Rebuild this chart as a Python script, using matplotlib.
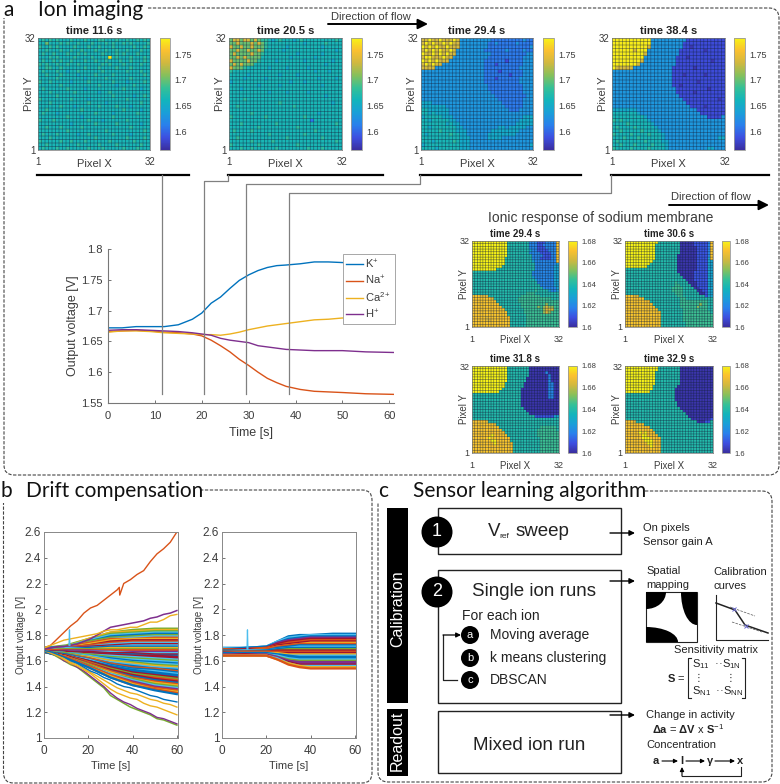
import matplotlib
matplotlib.use("Agg")
import matplotlib.pyplot as plt
import numpy as np
from matplotlib.colors import LinearSegmentedColormap
from matplotlib.patches import Circle, Ellipse, Rectangle
from matplotlib.path import Path
from matplotlib.patches import PathPatch

plt.rcParams['font.family'] = ['Liberation Sans', 'DejaVu Sans']
plt.rcParams['mathtext.fontset'] = 'custom'
plt.rcParams['mathtext.rm'] = 'Liberation Sans'
plt.rcParams['mathtext.it'] = 'Liberation Sans'
plt.rcParams['mathtext.bf'] = 'Liberation Sans:bold'
plt.rcParams['mathtext.default'] = 'regular'

TXT = '#3c3c3c'
parula = LinearSegmentedColormap.from_list('parula', ['#3a2e9e', '#3d4fe0', '#2a80ec', '#1a9fd8', '#12b4bc',
                                                      '#35c097', '#85c05c', '#d0b840', '#fac030', '#f7f316'])
matlab = ['#0072BD', '#D95319', '#EDB120', '#7E2F8E', '#77AC30', '#4DBEEE', '#A2142F']

# voltage for each digit used in the maps below
top_levels = [1.57, 1.585, 1.61, 1.63, 1.65, 1.665, 1.68, 1.70, 1.735, 1.778]
na_levels = [1.602, 1.61, 1.62, 1.63, 1.64, 1.645, 1.655, 1.665, 1.672, 1.68]

# ion imaging maps, top row of the array first
map_116 = [
    "56565655 56555655 56655565 56556565", "55755565 65565556 55565655 65655556",
    "65565655 55655565 56555655 55565565", "55655565 56556555 65565565 56555655",
    "56556555 65565655 55655565 65556555", "55565655 55655556 55559565 55655565",
    "56556565 56555655 65565556 55655565", "65655655 65565555 55656555 65555655",
    "55665565 55555655 56555565 55655555", "56555655 45565555 55655555 56555655",
    "55655565 55545555 65555655 55555565", "55555655 55555455 55565555 55655555",
    "65565555 54555565 55555655 54555565", "55555565 55555555 56555545 55565555",
    "56555555 65555455 55555555 65555455", "55565555 55655555 54556555 55555555",
    "55555655 55555555 55555655 55545565", "65555555 56555545 55555555 56555555",
    "55565555 55555565 55545555 55555655", "55555565 55455555 56555565 55455555",
    "55655555 55556555 55555555 65555455", "56555455 55555555 65555455 55556555",
    "55555555 65554555 55555655 55555555", "65556555 55555565 55455555 56555555",
    "55555555 54555555 65555565 55555455", "55655565 55556555 55555555 55655555",
    "55555555 65555555 55565555 55555565", "56555655 55545565 55555655 55455555",
    "55565555 55555555 65555555 56555565", "65555565 56555655 55556555 55565555",
    "55655555 55565555 56555565 55555655", "56555655 65555565 55655555 65556555",
]
map_205 = [
    "78878878 76654565 55456555 55555565", "77877787 87655555 55555455 55565555",
    "87787787 77655555 45555555 55455555", "77877877 87555554 55555555 55555545",
    "78777787 76555555 55545555 55455555", "77878777 75555555 54555555 45555555",
    "87777877 65555455 55555455 55555455", "78787775 55555555 55555555 55545555",
    "87776555 55545555 45555545 55555555", "65555555 55555555 55555555 45554555",
    "55555455 55555545 55545555 55555555", "55554555 55455555 55555555 54555545",
    "45555555 55555555 54555455 55555555", "55555555 45555545 55555555 55455555",
    "55545555 55555555 55555555 55555555", "55555555 55545555 45555545 55555555",
    "55555555 55555555 55555555 55545555", "55556555 55555555 55555555 55555555",
    "55555555 55555565 55555555 55555455", "55655555 55555555 55655555 55555555",
    "55555555 55555555 55555555 55555555", "55555565 55555555 55555555 54555555",
    "65555555 55655555 55555655 55555555", "55555555 55555555 55555552 55555555",
    "55565555 55555655 55555555 55555565", "55555555 65555555 55565555 55555555",
    "56555565 55555555 55555555 65555555", "55555555 55565555 55555655 55555555",
    "55655555 55555555 65555555 55655555", "55555565 55556555 55555555 55555565",
    "65555555 65555555 55565555 55555555", "55565565 55555655 55555565 55655555",
]
map_294 = [
    "88988988 89833333 33332222 22222322", "89898898 98833333 33322322 22232222",
    "98989889 88833333 33322222 22222223", "89898988 98333333 33222222 32222322",
    "98898989 88333333 33332222 22222233", "89988898 83333333 33322222 22222333",
    "98989888 33333333 33222222 12222333", "89898833 33333333 33222122 22222333",
    "88883333 33333333 33222222 22223333", "33333333 33333333 33222212 22222333",
    "33333333 33333333 33222222 21222333", "33333333 33333333 33222122 22223333",
    "33333333 33333333 33222222 22223333", "33333333 33333333 33322222 22222333",
    "33333333 33333333 33322222 22222333", "33333333 33333333 33332222 22222333",
    "33333333 33333333 33333222 22222233", "33333333 33333333 33333322 22222333",
    "44433333 33333333 33333332 22222333", "44444443 33333333 33333333 22222333",
    "55444444 33333333 33333333 32223333", "55454444 33333333 33333333 33333333",
    "45555544 43333333 33333333 33333444", "55455555 44333333 33333333 33334444",
    "55555554 54433333 33333333 33344444", "55455555 55443333 33333344 34444433",
    "55555655 55444333 33334444 44443333", "54555555 65544333 33344444 44433333",
    "55555555 55544433 33344443 33333333", "55545555 56544433 33333333 33333333",
    "45555555 55544433 33333333 33333334", "55554555 55544433 33333333 33333333",
]
map_384 = [
    "99999999 99933333 33333111 11111111", "99999999 99933333 33331111 11111111",
    "99999999 99833333 33331101 11111111", "99999989 99333333 33311111 11011111",
    "99999999 98333333 33311111 11111111", "99999999 93333333 33111011 11111111",
    "99999999 83333333 33111111 11110111", "99999998 33333333 33111111 11111111",
    "98888833 33333333 31111110 11111111", "33333333 33333333 31111111 11111111",
    "33333333 33333333 31110111 11011111", "33333333 33333333 31111111 11111111",
    "33333333 33333333 31111111 01111111", "33333333 33333333 31101111 11111111",
    "33333333 33333333 33111111 11101111", "33333333 33333333 33111110 11111111",
    "33333333 33333333 33311111 11111111", "33333333 33333333 33331111 11111101",
    "33333333 33333333 33333111 11111111", "33333333 33333333 33333311 11011111",
    "44444443 33333333 33333333 11111111", "55555554 33333333 33333333 31111111",
    "55555555 54333333 33333333 33311113", "65655555 55433333 33333333 33333333",
    "55556555 55543333 33333333 33333333", "56555565 55554333 33333333 33333333",
    "55655555 65555433 33333333 33333333", "65555655 55655543 33333333 33333333",
    "55565556 55555543 33333333 33333344", "56555555 56555544 33333333 33333333",
    "55655565 55565554 33333333 33333333", "65555655 55655554 33333333 33344333",
]
na_294 = [
    "99999999 99999444 44444222 11122228", "99999999 99999444 44444222 11222228",
    "99999999 99999444 44444222 11122228", "99999999 99999444 44444322 11112228",
    "99999999 99999444 44444222 21111228", "99999999 99999444 44444422 22111228",
    "99999999 99994444 44444422 21111228", "99999999 99994444 44444432 22222228",
    "99999999 99994444 44444442 22222223", "99999999 99944444 44444442 22222233",
    "99999999 94444444 44444442 22222233", "44444444 44444444 44444422 22222233",
    "44444444 44444444 44444422 22222233", "44444444 44444444 44444432 22222233",
    "44444444 44444444 44444443 22222233", "44444444 44444444 44444444 22222233",
    "44444444 44444444 44444444 42222233", "44444444 44444444 44444444 44222223",
    "44444444 44444444 44444445 44443223", "44444444 44444444 44445554 44444444",
    "88877744 44444444 44555555 54444444", "88888887 44444444 45555555 55555444",
    "88888888 84444444 45555555 55555555", "88888888 88444444 44555555 55565555",
    "88888888 88844444 44555555 65676655", "88888888 88884444 44455555 55677755",
    "88888888 88888444 44455555 55676555", "88888888 88888444 44445555 55555555",
    "88888788 88888844 44445555 55555555", "88888778 88888844 44445555 55555555",
    "88888888 88888844 44445555 55555555", "88888888 88888844 44445555 55555555",
]
na_306 = [
    "99999999 99994444 44440000 01111128", "99999999 99944444 44440000 01111128",
    "99999999 99944444 44440000 00111128", "99999999 99944444 44440000 00111128",
    "99999999 99944444 44440000 00111128", "99999999 99944444 44400000 00111128",
    "99999999 99944444 44400000 00111138", "99999999 99444444 44400000 00111133",
    "99999999 94444444 44400000 00111133", "99999999 44444444 44400000 00111133",
    "44444444 44444444 44400000 00111133", "44444444 44444444 44400000 01111133",
    "44444444 44444444 44440000 01111133", "44444444 44444444 44444000 01111133",
    "44444444 44444444 44444400 01111133", "44444444 44444444 44544440 00111133",
    "44444444 44444444 44554444 00111133", "44444444 44444444 45555444 40011133",
    "44444444 44444444 45555444 44001133", "44444444 44444444 44555444 44400133",
    "88877444 44444444 44455444 44444133", "88888884 44444444 44445544 44444444",
    "88888888 84444444 44445555 55555544", "88888888 88444444 44445555 55565544",
    "88888888 88844444 44445555 55655544", "88888888 88884444 44444555 55555544",
    "88888888 88888444 44444555 55555554", "88888888 88888444 44444555 55555555",
    "88888888 88888444 44444555 55555555", "88888888 88888444 44444555 55555555",
    "88888888 88888444 44444455 55555555", "88888888 88888444 44444455 55555555",
]
na_318 = [
    "99999999 99999444 44444000 00000000", "99999999 99999444 44444000 00000000",
    "99999999 99999444 44444000 00020000", "99999999 99999444 44444000 00002000",
    "99999999 99999444 44440000 00002000", "99999999 99999444 44440000 00002000",
    "99999999 99994444 44400000 00002200", "99999999 99994444 44400000 00002200",
    "99999999 99944444 44000000 00002200", "99999999 99444444 44000000 00002200",
    "44444444 44444444 44000000 00002200", "44444444 44444444 44000000 00002200",
    "44444444 44444444 44000000 00000000", "44444444 44444444 44000000 00000000",
    "44444444 44444444 44000000 00000000", "44444444 44444444 44400000 00000000",
    "44444444 44444444 44440000 00000000", "44444444 44444444 44444000 00000000",
    "44444444 44444444 44444441 11111133", "44444444 44444444 44444444 44444444",
    "88888744 44444444 44444444 44444444", "88888888 74444444 44444444 44444444",
    "88888888 88444444 44444444 45555554", "88888888 88844444 44444444 55555554",
    "88888888 88884444 44444444 55555555", "88888889 88888444 44444444 55555555",
    "88888898 88888844 44444444 45555555", "88888889 98888844 44444444 45555555",
    "88888888 98888884 44444444 45555555", "88888888 88888884 44444444 45555555",
    "88888888 88888884 44444444 45555555", "88888888 88888884 44444444 45555555",
]
na_329 = [
    "99999999 99994444 44440000 00000000", "99999999 99994444 44440000 00000000",
    "99999999 99944444 44440000 00000000", "99999999 99944444 44440000 00000000",
    "99999999 99944444 44440000 00000000", "99999999 99944444 44440000 00000000",
    "99999999 99944444 44440000 00000000", "99999999 99444444 44400000 00000000",
    "99999999 99444444 44000000 00000000", "99999999 94444444 44000000 00000000",
    "44444444 44444444 44000000 00000000", "44444444 44444444 44000000 00000000",
    "44444444 44444444 44000000 00000000", "44444444 44444444 44400000 00000000",
    "44444444 44444444 44400000 00000000", "44444444 44444444 44440000 00000000",
    "44444444 44444444 44444000 00000000", "44444444 44444444 44444400 00000000",
    "44444444 44444444 44444440 00000000", "44444444 44444444 44444444 00000001",
    "88874444 44444444 44444444 44000114", "88888884 44444444 44444444 44444444",
    "88888888 84444444 44444444 44444444", "88888888 88444444 44444444 44444444",
    "88888989 88844444 44444444 44444444", "88888899 88884444 44444444 44444444",
    "88888899 98888444 44444444 44444444", "88888889 99888444 44444444 44444444",
    "88888888 99888444 44444444 44444444", "88888888 89888444 44444444 44444444",
    "88888888 88888444 44444444 44444444", "88888888 88888444 44444444 44444444",
]

# ion response curves
ion_time = [0, 3, 6, 9, 12, 15, 18, 20, 22, 24, 26, 28, 30, 32, 34, 36, 38, 41, 44, 47, 50, 55, 61]
k_volts = [1.672, 1.672, 1.674, 1.674, 1.674, 1.677, 1.686, 1.696, 1.712, 1.722, 1.736, 1.749, 1.758, 1.765,
           1.770, 1.773, 1.774, 1.776, 1.779, 1.779, 1.778, 1.778, 1.779]
na_volts = [1.666, 1.667, 1.668, 1.667, 1.665, 1.664, 1.662, 1.659, 1.652, 1.643, 1.633, 1.621, 1.611, 1.600,
            1.590, 1.583, 1.577, 1.572, 1.569, 1.568, 1.567, 1.565, 1.564]
ca_volts = [1.665, 1.667, 1.667, 1.666, 1.664, 1.663, 1.662, 1.661, 1.661, 1.660, 1.662, 1.665, 1.669, 1.672,
            1.675, 1.677, 1.679, 1.682, 1.685, 1.686, 1.688, 1.686, 1.688]
h_volts = [1.668, 1.669, 1.669, 1.668, 1.667, 1.666, 1.664, 1.662, 1.660, 1.655, 1.652, 1.650, 1.648, 1.643,
           1.641, 1.639, 1.637, 1.636, 1.635, 1.635, 1.635, 1.633, 1.632]
ion_names = ['K$^{+}$', 'Na$^{+}$', 'Ca$^{2+}$', 'H$^{+}$']
marker_times = [11.6, 20.5, 29.4, 38.4]

# drift panel, raw pixels: outliers first, they stand clear of the band
orange_time = [0, 3, 6, 9, 12, 15, 18, 21, 24, 27, 30, 33, 34, 34.2, 36, 39, 42, 45, 48, 51, 54, 57, 60]
orange_volts = [1.70, 1.72, 1.77, 1.82, 1.87, 1.91, 1.97, 2.01, 2.03, 2.07, 2.11, 2.15, 2.17, 2.11, 2.20, 2.23,
                2.27, 2.30, 2.37, 2.43, 2.47, 2.52, 2.60]
outlier_time = [0, 3, 6, 9, 12, 15, 18, 21, 24, 27, 30, 33, 36, 39, 42, 45, 48, 51, 54, 57, 60]
purple_hi = [1.69, 1.70, 1.71, 1.71, 1.72, 1.73, 1.75, 1.77, 1.80, 1.83, 1.86, 1.87, 1.88, 1.89, 1.90, 1.91,
             1.93, 1.94, 1.96, 1.97, 1.99]
yellow_hi = [1.70, 1.72, 1.74, 1.76, 1.77, 1.78, 1.79, 1.80, 1.81, 1.83, 1.84, 1.84, 1.85, 1.86, 1.86, 1.88,
             1.90, 1.90, 1.92, 1.95, 1.96]
green_lo = [1.68, 1.66, 1.63, 1.60, 1.57, 1.55, 1.51, 1.47, 1.43, 1.39, 1.33, 1.30, 1.27, 1.24, 1.22, 1.20,
            1.18, 1.15, 1.14, 1.12, 1.10]
purple_lo = [1.68, 1.66, 1.64, 1.60, 1.58, 1.55, 1.52, 1.48, 1.44, 1.40, 1.35, 1.31, 1.28, 1.26, 1.23, 1.21,
             1.19, 1.16, 1.15, 1.13, 1.11]
yellow_lo = [1.68, 1.66, 1.64, 1.61, 1.58, 1.56, 1.53, 1.50, 1.46, 1.42, 1.38, 1.35, 1.33, 1.31, 1.30, 1.27,
             1.25, 1.24, 1.22, 1.20, 1.18]
yellow_mid = [1.68, 1.67, 1.64, 1.62, 1.59, 1.57, 1.54, 1.51, 1.48, 1.45, 1.42, 1.39, 1.37, 1.35, 1.34, 1.32,
              1.30, 1.29, 1.27, 1.26, 1.24]
blue_lo = [1.68, 1.67, 1.65, 1.63, 1.60, 1.58, 1.55, 1.52, 1.50, 1.47, 1.45, 1.42, 1.40, 1.39, 1.37, 1.35,
           1.33, 1.32, 1.30, 1.29, 1.28]

raw_time = [0, 10, 20, 30, 40, 50, 60]
raw_volts = [
    [1.70, 1.72, 1.77, 1.82, 1.84, 1.85, 1.85], [1.70, 1.71, 1.77, 1.82, 1.83, 1.84, 1.84],
    [1.70, 1.71, 1.76, 1.81, 1.82, 1.83, 1.83], [1.70, 1.71, 1.76, 1.80, 1.81, 1.82, 1.82],
    [1.70, 1.71, 1.75, 1.79, 1.80, 1.81, 1.81], [1.69, 1.71, 1.75, 1.78, 1.79, 1.80, 1.80],
    [1.69, 1.71, 1.74, 1.77, 1.78, 1.79, 1.79], [1.69, 1.71, 1.74, 1.77, 1.77, 1.78, 1.78],
    [1.69, 1.70, 1.73, 1.76, 1.77, 1.77, 1.77], [1.69, 1.70, 1.72, 1.75, 1.76, 1.76, 1.76],
    [1.69, 1.70, 1.72, 1.74, 1.75, 1.75, 1.75], [1.69, 1.70, 1.71, 1.73, 1.74, 1.74, 1.74],
    [1.69, 1.70, 1.71, 1.72, 1.73, 1.73, 1.73], [1.68, 1.70, 1.70, 1.71, 1.72, 1.72, 1.72],
    [1.68, 1.69, 1.70, 1.71, 1.71, 1.71, 1.71], [1.68, 1.69, 1.69, 1.70, 1.70, 1.70, 1.70],
    [1.68, 1.69, 1.69, 1.69, 1.69, 1.69, 1.69], [1.68, 1.68, 1.68, 1.68, 1.68, 1.68, 1.68],
    [1.67, 1.68, 1.68, 1.67, 1.67, 1.67, 1.67], [1.67, 1.67, 1.67, 1.67, 1.66, 1.66, 1.66],
    [1.67, 1.67, 1.67, 1.66, 1.66, 1.65, 1.65], [1.67, 1.67, 1.66, 1.65, 1.65, 1.64, 1.64],
    [1.67, 1.67, 1.66, 1.65, 1.64, 1.64, 1.63], [1.67, 1.67, 1.65, 1.64, 1.63, 1.63, 1.62],
    [1.67, 1.66, 1.65, 1.64, 1.63, 1.62, 1.61], [1.67, 1.66, 1.65, 1.63, 1.62, 1.61, 1.60],
    [1.67, 1.66, 1.64, 1.62, 1.61, 1.60, 1.59], [1.67, 1.66, 1.64, 1.62, 1.60, 1.59, 1.58],
    [1.67, 1.66, 1.64, 1.61, 1.59, 1.58, 1.57], [1.67, 1.66, 1.63, 1.60, 1.59, 1.57, 1.56],
    [1.67, 1.65, 1.63, 1.60, 1.58, 1.56, 1.55], [1.67, 1.65, 1.62, 1.59, 1.57, 1.55, 1.54],
    [1.67, 1.65, 1.62, 1.58, 1.56, 1.54, 1.53], [1.67, 1.65, 1.62, 1.58, 1.55, 1.54, 1.52],
    [1.67, 1.65, 1.61, 1.57, 1.54, 1.53, 1.51], [1.67, 1.64, 1.61, 1.56, 1.53, 1.52, 1.50],
    [1.67, 1.64, 1.60, 1.56, 1.53, 1.51, 1.49], [1.67, 1.64, 1.60, 1.55, 1.52, 1.50, 1.48],
    [1.67, 1.64, 1.60, 1.55, 1.51, 1.49, 1.47], [1.67, 1.64, 1.59, 1.54, 1.50, 1.48, 1.46],
    [1.67, 1.64, 1.59, 1.53, 1.49, 1.47, 1.45], [1.67, 1.64, 1.58, 1.53, 1.49, 1.46, 1.44],
    [1.67, 1.63, 1.58, 1.52, 1.48, 1.45, 1.43], [1.67, 1.63, 1.58, 1.52, 1.47, 1.44, 1.42],
    [1.67, 1.63, 1.57, 1.51, 1.46, 1.43, 1.41], [1.67, 1.63, 1.57, 1.50, 1.46, 1.42, 1.40],
    [1.67, 1.63, 1.56, 1.50, 1.45, 1.41, 1.39], [1.67, 1.63, 1.56, 1.49, 1.44, 1.40, 1.38],
    [1.67, 1.63, 1.56, 1.49, 1.43, 1.39, 1.37], [1.67, 1.63, 1.55, 1.48, 1.42, 1.38, 1.36],
    [1.67, 1.63, 1.55, 1.47, 1.41, 1.38, 1.35], [1.67, 1.62, 1.55, 1.47, 1.41, 1.37, 1.34],
]

# drift panel, after compensation
comp_time = [0, 10, 20, 25, 30, 35, 40, 50, 60]
comp_volts = [
    [1.70, 1.70, 1.71, 1.75, 1.79, 1.80, 1.80, 1.81, 1.81], [1.70, 1.70, 1.71, 1.75, 1.78, 1.79, 1.80, 1.80, 1.80],
    [1.69, 1.70, 1.71, 1.74, 1.77, 1.78, 1.79, 1.79, 1.79], [1.69, 1.69, 1.70, 1.74, 1.76, 1.77, 1.78, 1.78, 1.78],
    [1.69, 1.69, 1.70, 1.73, 1.75, 1.76, 1.77, 1.77, 1.77], [1.69, 1.69, 1.70, 1.72, 1.74, 1.75, 1.76, 1.76, 1.76],
    [1.68, 1.69, 1.69, 1.72, 1.73, 1.74, 1.75, 1.75, 1.75], [1.68, 1.68, 1.69, 1.71, 1.72, 1.73, 1.74, 1.74, 1.74],
    [1.68, 1.68, 1.69, 1.71, 1.72, 1.73, 1.73, 1.73, 1.73], [1.68, 1.68, 1.68, 1.70, 1.71, 1.72, 1.72, 1.72, 1.72],
    [1.67, 1.68, 1.68, 1.69, 1.70, 1.71, 1.71, 1.71, 1.71], [1.67, 1.67, 1.68, 1.69, 1.70, 1.70, 1.70, 1.70, 1.70],
    [1.67, 1.67, 1.67, 1.68, 1.69, 1.69, 1.69, 1.69, 1.69], [1.67, 1.67, 1.67, 1.68, 1.68, 1.68, 1.68, 1.68, 1.68],
    [1.66, 1.67, 1.67, 1.67, 1.67, 1.67, 1.67, 1.67, 1.67], [1.66, 1.66, 1.66, 1.66, 1.66, 1.66, 1.66, 1.66, 1.66],
    [1.66, 1.66, 1.66, 1.66, 1.65, 1.65, 1.65, 1.65, 1.65], [1.66, 1.66, 1.66, 1.65, 1.64, 1.64, 1.64, 1.64, 1.64],
    [1.66, 1.66, 1.66, 1.65, 1.64, 1.63, 1.63, 1.63, 1.63], [1.65, 1.65, 1.65, 1.64, 1.63, 1.62, 1.62, 1.62, 1.62],
    [1.65, 1.65, 1.65, 1.64, 1.62, 1.61, 1.61, 1.61, 1.61], [1.65, 1.65, 1.65, 1.63, 1.61, 1.60, 1.60, 1.60, 1.60],
    [1.65, 1.65, 1.65, 1.63, 1.60, 1.59, 1.59, 1.59, 1.59], [1.64, 1.65, 1.64, 1.62, 1.60, 1.58, 1.58, 1.58, 1.58],
    [1.64, 1.65, 1.64, 1.62, 1.59, 1.57, 1.57, 1.57, 1.57], [1.64, 1.64, 1.64, 1.62, 1.58, 1.56, 1.56, 1.56, 1.56],
    [1.64, 1.64, 1.64, 1.61, 1.58, 1.56, 1.55, 1.55, 1.55], [1.64, 1.64, 1.64, 1.61, 1.57, 1.55, 1.54, 1.54, 1.54],
]
spike_time = [11.3, 11.5, 11.7]
spike_raw = [1.72, 1.84, 1.72]
spike_comp = [1.69, 1.84, 1.69]

# line colours for the two bands, top of the band first, as indices into matlab
raw_colors = "4245045 12615 6502 41 356 0665 450542 50 105 006 41 60 12 4 5 3 1 2 1 0 1 1 6".replace(' ', '')
comp_colors = "0503616210504616250054336521"

fig = plt.figure(figsize=(7.8, 7.84), dpi=100)


def px_axes(x0, y0, x1, y1):
    return fig.add_axes([x0 / 780, 1 - y1 / 784, (x1 - x0) / 780, (y1 - y0) / 784])


def heat_panel(rows, levels, box, cbar_x, title, vlim, ticks, fonts, pads):
    title_size, label_size, tick_size, cbar_size = fonts
    x0, y0, x1, y1 = box
    grid = np.array([[levels[int(c)] for c in row.replace(' ', '')] for row in rows])
    ax = px_axes(x0, y0, x1, y1)
    edges = np.arange(33)
    mesh = ax.pcolormesh(edges, edges, grid[::-1], cmap=parula, vmin=vlim[0], vmax=vlim[1])
    # cell outlines, not snapped so they stay thin at this size
    for lines in (ax.vlines(edges, 0, 32, color='#14203c', lw=0.45, alpha=0.6),
                  ax.hlines(edges, 0, 32, color='#14203c', lw=0.45, alpha=0.6)):
        lines.set_snap(False)
    ax.set_xlim(0, 32)
    ax.set_ylim(0, 32)
    ax.set_xticks([0, 32], ['1', '32'], fontsize=tick_size, color=TXT)
    ax.set_yticks([0, 32], ['1', '32'], fontsize=tick_size, color=TXT)
    ax.tick_params(length=0, pad=2)
    ax.tick_params(axis='x', pad=pads[0])
    ax.set_xlabel('Pixel X', fontsize=label_size, color=TXT, labelpad=pads[1])
    ax.set_ylabel('Pixel Y', fontsize=label_size, color=TXT, labelpad=-7)
    ax.set_title(title, fontsize=title_size, fontweight='bold', color='#222222', pad=3)
    for s in ax.spines.values():
        s.set_color('#777777')
        s.set_linewidth(0.5)
    cax = px_axes(cbar_x[0], y0, cbar_x[1], y1)
    cb = fig.colorbar(mesh, cax=cax, ticks=ticks)
    cb.ax.set_yticklabels([f'{t:g}' for t in ticks], fontsize=cbar_size, color=TXT)
    cb.ax.tick_params(length=0, pad=3)
    cb.outline.set_edgecolor('#999999')
    cb.outline.set_linewidth(0.6)


top_lim = (1.563, 1.782)
top_ticks = [1.6, 1.65, 1.7, 1.75]
top_fonts = (8, 8, 7, 6.5)
top_pads = (5, -6)
heat_panel(map_116, top_levels, (38, 38, 150, 150), (160, 170), 'time 11.6 s', top_lim, top_ticks, top_fonts, top_pads)
heat_panel(map_205, top_levels, (229, 38, 342, 150), (351, 362), 'time 20.5 s', top_lim, top_ticks, top_fonts, top_pads)
heat_panel(map_294, top_levels, (421, 38, 533, 150), (543, 554), 'time 29.4 s', top_lim, top_ticks, top_fonts, top_pads)
heat_panel(map_384, top_levels, (612, 38, 725, 150), (734, 745), 'time 38.4 s', top_lim, top_ticks, top_fonts, top_pads)

na_lim = (1.6, 1.68)
na_ticks = [1.6, 1.62, 1.64, 1.66, 1.68]
na_fonts = (7, 7, 6.5, 5.5)
na_pads = (6, -7)
heat_panel(na_294, na_levels, (472, 241, 559, 327), (568, 577), 'time 29.4 s', na_lim, na_ticks, na_fonts, na_pads)
heat_panel(na_306, na_levels, (625, 241, 713, 327), (722, 730), 'time 30.6 s', na_lim, na_ticks, na_fonts, na_pads)
heat_panel(na_318, na_levels, (472, 366, 559, 453), (568, 577), 'time 31.8 s', na_lim, na_ticks, na_fonts, na_pads)
heat_panel(na_329, na_levels, (625, 366, 713, 453), (722, 730), 'time 32.9 s', na_lim, na_ticks, na_fonts, na_pads)

# line plot of the four ions
ax = px_axes(108, 249, 394, 403)
for volts, name, col in zip([k_volts, na_volts, ca_volts, h_volts], ion_names, matlab):
    ax.plot(ion_time, volts, color=col, lw=1.0, label=name)
ax.set_xlim(0, 61)
ax.set_ylim(1.55, 1.8)
ax.set_xticks(range(0, 61, 10))
ax.set_yticks([1.55, 1.6, 1.65, 1.7, 1.75, 1.8], ['1.55', '1.6', '1.65', '1.7', '1.75', '1.8'])
ax.tick_params(labelsize=8, colors=TXT, length=2, width=0.5, direction='in', pad=4)
ax.tick_params(axis='x', pad=6)
ax.set_xlabel('Time [s]', fontsize=9, color=TXT, labelpad=4)
ax.set_ylabel('Output voltage [V]', fontsize=9, color=TXT, labelpad=1)
ax.spines[['top', 'right']].set_visible(False)
ax.spines[['left', 'bottom']].set_color('#777777')
leg = ax.legend(loc='upper left', bbox_to_anchor=(0.822, 0.968), borderaxespad=0, fontsize=8, fancybox=False,
                framealpha=1, edgecolor='#999999', handlelength=1.5, handletextpad=0.2, labelspacing=0.3,
                borderpad=0.3)
leg.get_frame().set_linewidth(0.6)
for txt in leg.get_texts():
    txt.set_color(TXT)


def style_drift(ax):
    ax.set_xlim(0, 60.5)
    ax.set_ylim(1, 2.6)
    ax.set_xticks(range(0, 61, 20))
    ax.set_yticks([1, 1.2, 1.4, 1.6, 1.8, 2, 2.2, 2.4, 2.6], ['1', '1.2', '1.4', '1.6', '1.8', '2', '2.2', '2.4', '2.6'])
    ax.tick_params(labelsize=8.5, colors=TXT, length=2, width=0.5, direction='in', pad=2)
    ax.tick_params(axis='x', pad=5)
    ax.set_xlabel('Time [s]', fontsize=8, color=TXT, labelpad=3)
    ax.set_ylabel('Output voltage [V]', fontsize=7, color=TXT, labelpad=-1)
    for s in ax.spines.values():
        s.set_color('#888888')
        s.set_linewidth(0.7)


ax = px_axes(44, 532, 178, 738)
for volts, c in zip(raw_volts, raw_colors):
    ax.plot(raw_time, volts, color=matlab[int(c)], lw=1.5)
ax.plot(orange_time, orange_volts, color=matlab[1], lw=1.0)
ax.plot(outlier_time, purple_hi, color=matlab[3], lw=1.1)
ax.plot(outlier_time, yellow_hi, color=matlab[2], lw=1.0)
ax.plot(outlier_time, green_lo, color=matlab[4], lw=1.1)
ax.plot(outlier_time, purple_lo, color=matlab[3], lw=1.0)
ax.plot(outlier_time, yellow_lo, color=matlab[2], lw=1.0)
ax.plot(outlier_time, yellow_mid, color=matlab[2], lw=1.0)
ax.plot(outlier_time, blue_lo, color=matlab[0], lw=1.0)
ax.plot(spike_time, spike_raw, color=matlab[5], lw=0.9)
style_drift(ax)

ax = px_axes(222, 532, 356, 738)
for volts, c in zip(comp_volts, comp_colors):
    ax.plot(comp_time, volts, color=matlab[int(c)], lw=1.6)
ax.plot(spike_time, spike_comp, color=matlab[5], lw=0.9)
style_drift(ax)

# everything else sits on one overlay in pixel units
ov = fig.add_axes([0, 0, 1, 1], zorder=10)
ov.set_xlim(0, 780)
ov.set_ylim(784, 0)
ov.axis('off')


def frame(x0, y0, x1, y1, start_x, end_y, r=10):
    pts = [(start_x, y0), (x1 - r, y0), (x1, y0), (x1, y0 + r), (x1, y1 - r), (x1, y1), (x1 - r, y1),
           (x0 + r, y1), (x0, y1), (x0, y1 - r), (x0, end_y)]
    codes = [Path.MOVETO, Path.LINETO, Path.CURVE3, Path.CURVE3, Path.LINETO, Path.CURVE3, Path.CURVE3,
             Path.LINETO, Path.CURVE3, Path.CURVE3, Path.LINETO]
    ov.add_patch(PathPatch(Path(pts, codes), fill=False, ec='#444444', lw=0.8, ls=(0, (3, 1.4))))


def arrow(x0, y0, x1, y1, lw=1.0, size=8, col='black'):
    ov.annotate('', xy=(x1, y1), xytext=(x0, y0),
                arrowprops=dict(arrowstyle='-|>', color=col, lw=lw, mutation_scale=size, shrinkA=0, shrinkB=0))


def label(x, y, s, size=8, ha='left', **kw):
    kw.setdefault('color', '#222222')
    ov.text(x, y, s, fontsize=size, ha=ha, va='center', **kw)


frame(4, 8, 779, 475, 148, 18)
frame(3.5, 490, 372, 783, 200, 503)
frame(378, 491, 772, 782, 645, 503)

for x, y, s in [(3, 10, 'a'), (0, 491, 'b'), (378, 491, 'c')]:
    label(x, y, s, size=15, family='Lato', color='#111111')
for x, y, s in [(38, 10, 'Ion imaging'), (26, 491, 'Drift compensation'), (413, 491, 'Sensor learning algorithm')]:
    label(x, y, s, size=15, family='Lato', color='#111111')

# rules under the maps and the connectors to the time markers
for x0, x1 in [(37, 189), (228, 383), (420, 581), (611, 769)]:
    ov.plot([x0, x1], [175, 175], color='black', lw=1.6)
gray = '#808080'
ov.plot([162, 162], [175, 394], color=gray, lw=0.9)
ov.plot([228, 228, 204, 204], [175, 181, 181, 394], color=gray, lw=0.9)
ov.plot([420, 420, 246, 246], [175, 184, 184, 394], color=gray, lw=0.9)
ov.plot([611, 611, 289, 289], [175, 193, 193, 394], color=gray, lw=0.9)

label(331, 17, 'Direction of flow', size=8, color=TXT)
arrow(328, 24, 428, 24, lw=1.4, size=15)
label(671, 197, 'Direction of flow', size=8, color=TXT)
arrow(669, 205, 769, 205, lw=1.4, size=15)
label(601, 218, 'Ionic response of sodium membrane', size=10, ha='center', color=TXT)

# panel c
for y0, y1, s, yc, in [(508, 703, 'Calibration', 609), (709, 776, 'Readout', 741)]:
    ov.add_patch(Rectangle((387, y0), 21, y1 - y0, fc='black', ec='none'))
    label(397.5, yc, s, size=11.5, ha='center', rotation=90, color='white')
for y0, y1 in [(508, 554), (570, 703), (711, 773)]:
    ov.add_patch(Rectangle((438, y0), 183, y1 - y0, fc='white', ec='#222222', lw=1.0))
for y, s in [(532, '1'), (592, '2')]:
    ov.add_patch(Circle((437, y), 15.5, fc='black', ec='none', zorder=3))
    label(437, y, s, size=13, ha='center', color='white', zorder=4)
label(488, 532, 'V', size=13.5)
label(499, 537, 'ref', size=6)
label(516, 532, 'sweep', size=13.5)
label(534, 591, 'Single ion runs', size=13.5, ha='center')
label(529, 745, 'Mixed ion run', size=13.5, ha='center')
label(462, 616, 'For each ion', size=10)
for y, c, s in [(635, 'a', 'Moving average'), (658, 'b', 'k means clustering'), (680, 'c', 'DBSCAN')]:
    ov.add_patch(Circle((470, y), 9, fc='black', ec='none'))
    label(470, y, c, size=8, ha='center', color='white')
    label(490, y, s, size=10)
ov.plot([457, 443, 443], [680, 680, 635], color='#222222', lw=0.9)
arrow(443, 635, 461, 635, lw=0.9, size=7)

arrow(610, 533, 635, 533)
arrow(610, 581, 635, 581)
arrow(610, 715, 635, 715)
label(643, 528, 'On pixels')
label(643, 542, 'Sensor gain A')
label(646, 571, 'Spatial')
label(646, 585, 'mapping')
label(713, 572, 'Calibration')
label(713, 586, 'curves')

box = Rectangle((646, 592), 51, 50, fc='white', ec='#222222', lw=0.8, zorder=3)
ov.add_patch(box)
for xy, w, h in [((646, 592), 40, 34), ((697, 592), 32, 66), ((646, 642), 64, 30)]:
    corner = Ellipse(xy, w, h, fc='black', ec='none', zorder=4)
    ov.add_patch(corner)
    corner.set_clip_path(box)
ov.plot([716, 716, 768], [595, 640, 640], color='#222222', lw=0.8)
ov.plot([716, 735, 745, 768], [603, 610, 625, 633], color='#222222', lw=1.1)
ov.plot([730, 755], [607, 616], color='#555555', lw=0.5, ls='--')
ov.plot([732, 762], [622, 632], color='#555555', lw=0.5, ls='--')
ov.plot([734, 746], [609, 626], ls='none', marker='x', ms=3.5, mew=0.7, color='#6a6ad0')

label(716, 650, 'Sensitivity matrix', ha='center')
label(667, 678, '$\\mathbf{S}$ =', size=8)
ov.plot([691, 688, 688, 691], [658, 658, 698, 698], color='#222222', lw=0.8)
ov.plot([742, 745, 745, 742], [658, 658, 698, 698], color='#222222', lw=0.8)
label(692, 664, 'S$_{11}$  ··S$_{1N}$', size=8)
label(692, 691, 'S$_{N1}$  ··S$_{NN}$', size=8)
label(698, 678, '⋮', size=7, ha='center', family=['DejaVu Sans'])
label(730, 678, '⋮', size=7, ha='center', family=['DejaVu Sans'])

label(646, 715, 'Change in activity')
label(652, 729, '$\\mathbf{\\Delta a}$ = $\\mathbf{\\Delta V}$ x $\\mathbf{S}^{-1}$')
label(646, 745, 'Concentration')
for x, s in [(656, 'a'), (682, 'I'), (710, 'γ'), (740, 'x')]:
    label(x, 761, s, size=8, ha='center', fontweight='bold')
arrow(662, 761, 678, 761, lw=0.8, size=6)
arrow(686, 761, 705, 761, lw=0.8, size=6)
arrow(715, 761, 735, 761, lw=0.8, size=6)
ov.plot([741, 741, 682], [767, 776, 776], color='#222222', lw=0.8)
arrow(682, 776, 682, 767, lw=0.8, size=6)

plt.savefig('out.png', dpi=100)
plt.close()
